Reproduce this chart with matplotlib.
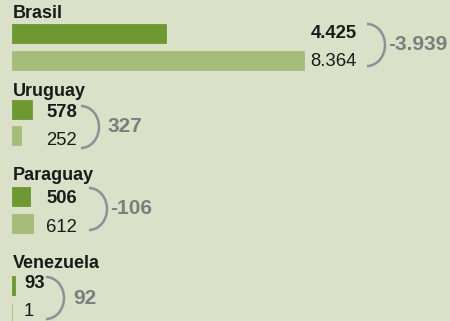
import matplotlib.pyplot as plt
from matplotlib.patches import Arc

plt.rcParams['font.family'] = ['Liberation Sans', 'DejaVu Sans']

countries = ["Brasil", "Uruguay", "Paraguay", "Venezuela"]
val_new = [4425, 578, 506, 93]
val_old = [8364, 252, 612, 1]
diff_labels = ["-3.939", "327", "-106", "92"]
new_labels = ["4.425", "578", "506", "93"]
old_labels = ["8.364", "252", "612", "1"]

bg = '#dae1c8'
dark = '#6e9832'
light = '#a4bd7a'
gray = '#7d7d7d'
arc_col = '#8e9097'

# layout (pixels)
k = 0.0349          # px per unit
x0 = 12             # bar start px
title_y = [13, 92, 175, 264]
bar1_y = [33.5, 109.5, 196.5, 285.5]
bar2_y = [60, 135.5, 223, 312]
lab_dy = [0, 3, 2, -2]
lab_x = [357, 46, 46, 24]
arc_x = [367, 81, 89, 46]
arc_y = [45, 127, 209, 298]
diff_x = [388, 107, 110, 73]

def px(x):
    return (x - x0) / k

fig = plt.figure(figsize=(4.5, 3.21), dpi=100, facecolor=bg)
ax = fig.add_axes([0, 0, 1, 1])
ax.set_facecolor(bg)
ax.set_xlim(px(0), px(450))
ax.set_ylim(321, 0)
ax.axis('off')

ax.barh(bar1_y, val_new, height=19, color=dark, edgecolor=dark, linewidth=0.6)
ax.barh(bar2_y, val_old, height=19, color=light, edgecolor=light, linewidth=0.6)

for i, c in enumerate(countries):
    ax.text(px(13), title_y[i], c, fontsize=13, fontweight='bold', color='#1a1a1a',
            ha='left', va='center')
    ha = 'right' if i == 0 else 'left'
    ax.text(px(lab_x[i]), bar1_y[i] + lab_dy[i], new_labels[i], fontsize=13.3,
            fontweight='bold', color='#1a1a1a', ha=ha, va='center')
    ax.text(px(lab_x[i]), bar2_y[i] + lab_dy[i] + 2, old_labels[i], fontsize=13.3,
            color='#1a1a1a', ha=ha, va='center')
    ax.add_patch(Arc((px(arc_x[i]), arc_y[i]), 36 / k, 42, theta1=-90, theta2=90,
                     color=arc_col, lw=1.8))
    ax.text(px(diff_x[i]), arc_y[i], diff_labels[i], fontsize=15, fontweight='bold',
            color=gray, ha='left', va='center')

fig.savefig('out.png', dpi=100, facecolor=bg)
